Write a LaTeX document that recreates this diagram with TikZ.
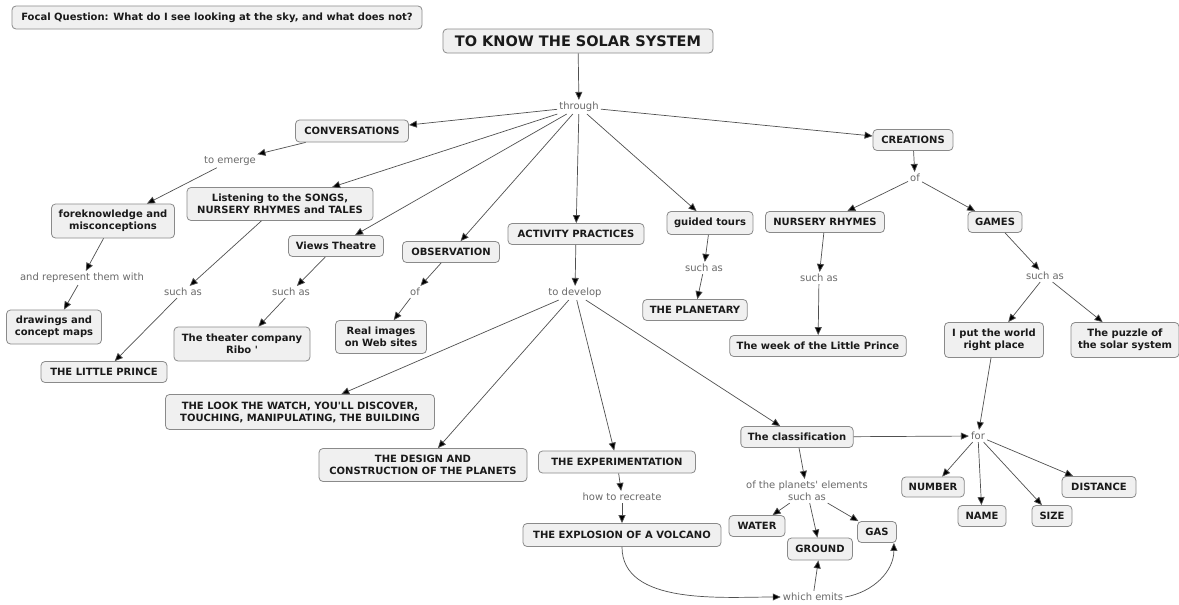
\documentclass[tikz,border=0pt]{standalone}
\usepackage{fontspec}
\setmainfont{DejaVu Sans}[Ligatures=NoCommon]
\usetikzlibrary{arrows.meta,calc}
\definecolor{boxfill}{HTML}{F0F0F0}
\definecolor{boxline}{HTML}{8A8A8A}
\definecolor{textc}{HTML}{1A1A1A}
\definecolor{linkc}{HTML}{6A6A6A}
\definecolor{linec}{HTML}{505050}
\tikzset{
  box/.style={draw=boxline, fill=boxfill, rounded corners=4pt, line width=0.8pt,
    font=\bfseries\fontsize{10}{12}\selectfont, text=textc, align=center,
    inner xsep=7pt, inner ysep=3pt, minimum height=21pt},
  box2/.style={box, minimum height=34pt},
  lnk/.style={font=\fontsize{10}{12}\selectfont, text=linkc, inner sep=2pt, align=center},
  conn/.style={draw=linec, line width=0.7pt, -{Triangle[length=8pt,width=7pt,fill=black]}},
}
\begin{document}
\begin{tikzpicture}[x=1pt,y=-1pt]
\useasboundingbox (0,0) rectangle (1179,605);
\fill[white] (0,0) rectangle (1179,605);
% concepts
\node[box, minimum height=23pt, minimum width=410pt] (fq) at (217,17.5) {Focal Question: What do I see looking at the sky, and what does not?};
\node[box, font=\bfseries\fontsize{14.5}{17}\selectfont, minimum height=24pt, minimum width=270pt] (root) at (578,41) {TO KNOW THE SOLAR SYSTEM};
\node[lnk] (through) at (579,107) {through};
\node[box, minimum height=22pt, minimum width=113pt] (conv) at (352,131) {CONVERSATIONS};
\node[lnk] (emerge) at (230,161) {to emerge};
\node[box2, minimum width=123pt] (fore) at (113,221) {foreknowledge and\\misconceptions};
\node[box2, minimum height=33pt, minimum width=186pt] (listen) at (280,204) {Listening to the SONGS,\\NURSERY RHYMES and TALES};
\node[box, minimum width=95pt] (views) at (336,246) {Views Theatre};
\node[box, minimum width=97pt] (obs) at (451,252) {OBSERVATION};
\node[box, minimum width=136pt] (act) at (576,234) {ACTIVITY PRACTICES};
\node[box, minimum height=23pt, minimum width=85pt] (guided) at (710,223) {guided tours};
\node[box, minimum width=80pt] (creat) at (913,140) {CREATIONS};
\node[lnk] (repr) at (82,278) {and represent them with};
\node[lnk] (such1) at (183,292) {such as};
\node[lnk] (such2) at (291,292) {such as};
\node[lnk] (ofobs) at (415,292) {of};
\node[lnk] (develop) at (575,293) {to develop};
\node[lnk] (such3) at (704,268) {such as};
\node[box2, minimum width=95pt] (drawc) at (54,327) {drawings and\\concept maps};
\node[box, minimum width=126pt] (prince) at (104,372) {THE LITTLE PRINCE};
\node[box2, minimum width=136pt] (ribo) at (242,344) {The theater company\\Ribo \textquotesingle};
\node[box2, minimum height=33pt, minimum width=91pt] (real) at (381,337) {Real images\\on Web sites};
\node[box, minimum width=96pt] (planetary) at (695,310) {THE PLANETARY};
\node[lnk] (ofcr) at (915,178) {of};
\node[box, minimum width=119pt] (nurs) at (825,222) {NURSERY RHYMES};
\node[box, minimum width=54pt] (games) at (995,222) {GAMES};
\node[lnk] (such4) at (819,278) {such as};
\node[lnk] (such5) at (1045,276) {such as};
\node[box, minimum width=175pt] (week) at (818,346) {The week of the Little Prince};
\node[box2, minimum height=35pt, minimum width=99pt] (world) at (994,340) {I put the world\\right place};
\node[box2, minimum height=35pt, minimum width=106pt] (puzzle) at (1125,340) {The puzzle of\\the solar system};
\node[box2, minimum height=35pt, minimum width=269pt] (look) at (300,412) {THE LOOK THE WATCH, YOU\textquotesingle LL DISCOVER,\\TOUCHING, MANIPULATING, THE BUILDING};
\node[box2, minimum height=33pt, minimum width=208pt] (design) at (423,465) {THE DESIGN AND\\CONSTRUCTION OF THE PLANETS};
\node[box, minimum height=22pt, minimum width=157pt] (exper) at (617,462) {THE EXPERIMENTATION};
\node[box, minimum width=112pt] (classif) at (797,437) {The classification};
\node[lnk] (howto) at (622,497) {how to recreate};
\node[box, minimum height=23pt, minimum width=198pt] (explo) at (622,535) {THE EXPLOSION OF A VOLCANO};
\node[lnk] (planets) at (807,491) {of the planets\textquotesingle{} elements\\such as};
\node[box, minimum width=56pt] (water) at (757,526) {WATER};
\node[box, minimum height=22pt, minimum width=65pt] (ground) at (820,549) {GROUND};
\node[box, minimum width=39pt] (gas) at (877,532) {GAS};
\node[lnk] (for) at (978,436) {for};
\node[box, minimum height=20pt, minimum width=62pt] (number) at (933,487) {NUMBER};
\node[box, minimum width=48pt] (name) at (982,516) {NAME};
\node[box, minimum width=40pt] (size) at (1052,516) {SIZE};
\node[box, minimum width=74pt] (distance) at (1099,487) {DISTANCE};
\node[lnk] (emits) at (813,597) {which emits};
% connectors
\draw[conn] (root) -- (through);
\draw[conn] (through) -- (conv);
\draw[conn] (through) -- (listen);
\draw[conn] (through) -- (views);
\draw[conn] (through) -- (obs);
\draw[conn] (through) -- (act);
\draw[conn] (through) -- (guided);
\draw[conn] (through) -- (creat);
\draw[conn] (conv) -- (emerge);
\draw[conn] (emerge) -- (fore);
\draw[conn] (fore) -- (repr);
\draw[conn] (repr) -- (drawc);
\draw[conn] (listen) -- (such1);
\draw[conn] (such1) -- (prince);
\draw[conn] (views) -- (such2);
\draw[conn] (such2) -- (ribo);
\draw[conn] (obs) -- (ofobs);
\draw[conn] (ofobs) -- (real);
\draw[conn] (act) -- (develop);
\draw[conn] (develop) -- (look);
\draw[conn] (develop) -- (design);
\draw[conn] (develop) -- (exper);
\draw[conn] (develop) -- (classif);
\draw[conn] (guided) -- (such3);
\draw[conn] (such3) -- (planetary);
\draw[conn] (creat) -- (ofcr);
\draw[conn] (ofcr) -- (nurs);
\draw[conn] (ofcr) -- (games);
\draw[conn] (nurs) -- (such4);
\draw[conn] (such4) -- (week);
\draw[conn] (games) -- (such5);
\draw[conn] (such5) -- (world);
\draw[conn] (such5) -- (puzzle);
\draw[conn] (world) -- (for);
\draw[conn] (classif) -- (for);
\draw[conn] (for) -- (number);
\draw[conn] (for) -- (name);
\draw[conn] (for) -- (size);
\draw[conn] (for) -- (distance);
\draw[conn] (exper) -- (howto);
\draw[conn] (howto) -- (explo);
\draw[conn] (classif) -- (planets);
\draw[conn] (planets) -- (water);
\draw[conn] (planets) -- (ground);
\draw[conn] (planets) -- (gas);
\draw[conn] (explo.south) to[out=-90,in=180,looseness=0.9] (emits.west);
\draw[conn] (emits) -- (ground);
\draw[conn] (emits.east) to[out=10,in=-90] ([xshift=-3pt]gas.south east);
\end{tikzpicture}
\end{document}
